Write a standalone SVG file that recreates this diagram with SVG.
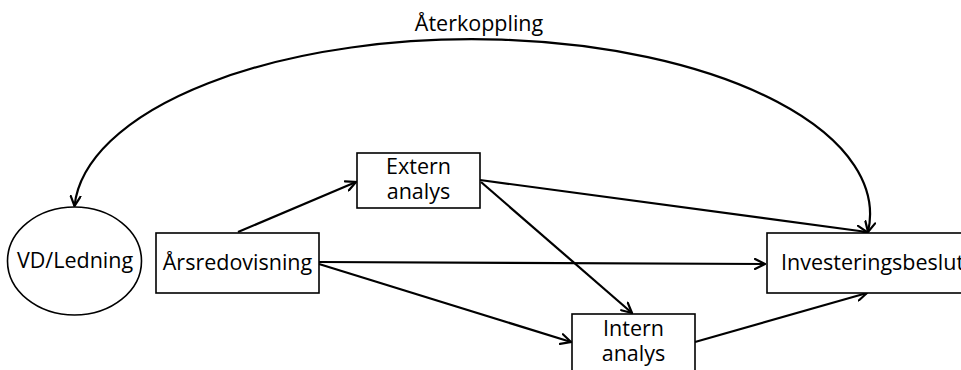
<svg xmlns="http://www.w3.org/2000/svg" width="961" height="370" viewBox="0 0 961 370">
<style>
.node{fill:#fff;stroke:#000;stroke-width:1.6}
.lbl{font-family:"Open Sans","Noto Sans",sans-serif;font-size:21.5px;fill:#000}
.c{text-anchor:middle}
.edge{fill:none;stroke:#000;stroke-width:2.2}
</style>
<defs>
<marker id="arr" viewBox="0 0 12 12" refX="11" refY="6" markerWidth="12" markerHeight="12" markerUnits="userSpaceOnUse" orient="auto-start-reverse">
<path d="M1,1 L11,6 L1,11" fill="none" stroke="#000" stroke-width="2.2" stroke-linecap="round" stroke-linejoin="miter"/>
</marker>
</defs>
<rect width="961" height="370" fill="#fff"/>
<g id="connectors">
<path class="edge" d="M74.5,206 A398 175 0 1 1 868,232" marker-start="url(#arr)" marker-end="url(#arr)"/>
<line class="edge" x1="238" y1="232" x2="356" y2="182" marker-end="url(#arr)"/>
<line class="edge" x1="480" y1="180" x2="867" y2="232" marker-end="url(#arr)"/>
<line class="edge" x1="481" y1="182" x2="632" y2="313" marker-end="url(#arr)"/>
<line class="edge" x1="319" y1="262" x2="765" y2="264" marker-end="url(#arr)"/>
<line class="edge" x1="319" y1="264" x2="571" y2="342" marker-end="url(#arr)"/>
<line class="edge" x1="695" y1="342" x2="867" y2="293" marker-end="url(#arr)"/>
</g>
<g id="vd">
<ellipse class="node" cx="74.5" cy="261" rx="67" ry="54"/>
<text class="lbl c" x="75" y="268">VD/Ledning</text>
</g>
<g id="arsredovisning">
<rect class="node" x="156" y="233" width="163" height="60"/>
<text class="lbl c" x="237.5" y="270">Årsredovisning</text>
</g>
<g id="extern">
<rect class="node" x="357" y="153" width="123" height="55"/>
<text class="lbl c" x="418.5" y="174">Extern</text>
<text class="lbl c" x="418.5" y="199">analys</text>
</g>
<g id="intern">
<rect class="node" x="572" y="314" width="123" height="70"/>
<text class="lbl c" x="633.5" y="336">Intern</text>
<text class="lbl c" x="633.5" y="361">analys</text>
</g>
<g id="investeringsbeslut">
<rect class="node" x="767" y="233" width="230" height="60"/>
<text class="lbl" x="781" y="270">Investeringsbeslut</text>
</g>
<g id="aterkoppling">
<text class="lbl c" x="479" y="31">Återkoppling</text>
</g>
</svg>
